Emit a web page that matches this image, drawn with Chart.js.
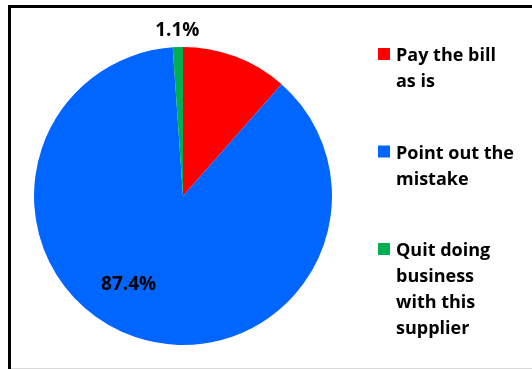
<!DOCTYPE html>
<html>
<head>
<meta charset="utf-8">
<script src="https://cdn.jsdelivr.net/npm/chart.js@4/dist/chart.umd.min.js"></script>
<style>
  html, body { margin: 0; padding: 0; background: #fff; }
  canvas { display: block; }
</style>
</head>
<body>
<canvas id="pie" width="532" height="369"></canvas>
<script>
// survey answers, shares in percent
const answers = [
  ['Pay the bill', 'as is'],
  ['Point out the', 'mistake'],
  ['Quit doing', 'business', 'with this', 'supplier']
];
const shares = [11.5, 87.4, 1.1];
const sliceColors = ['#FF0000', '#0066FF', '#00B050'];
const showValue = [false, true, true];

const FONT = '"Open Sans", "Noto Sans", sans-serif';

// frame around the chart
const framePlugin = {
  id: 'frame',
  beforeDraw(chart) {
    const ctx = chart.ctx;
    ctx.save();
    ctx.fillStyle = '#fff';
    ctx.fillRect(0, 0, chart.width, chart.height);
    ctx.fillStyle = '#000';
    ctx.fillRect(8, 5, chart.width, 3);
    ctx.fillRect(8, 5, 3, chart.height);
    ctx.fillStyle = '#d9d9d9';
    ctx.fillRect(11, chart.height - 1, chart.width, 1);
    ctx.restore();
  }
};

// percent labels placed relative to each arc
const valueLabels = {
  id: 'valueLabels',
  afterDatasetsDraw(chart, args, opts) {
    const ctx = chart.ctx;
    const arcs = chart.getDatasetMeta(0).data;
    ctx.save();
    ctx.font = 'bold 19px ' + FONT;
    ctx.fillStyle = '#000';
    ctx.textAlign = 'center';
    ctx.textBaseline = 'middle';
    arcs.forEach((arc, i) => {
      if (!showValue[i]) return;
      const p = opts.place[i];
      const mid = (arc.startAngle + arc.endAngle) / 2 + p.shift * Math.PI / 180;
      const r = arc.outerRadius * p.factor + p.extra;
      const x = arc.x + Math.cos(mid) * r;
      const y = arc.y + Math.sin(mid) * r;
      ctx.fillText(shares[i].toFixed(1) + '%', x, y);
    });
    ctx.restore();
  }
};

// legend with wrapped labels on the right
const sideLegend = {
  id: 'sideLegend',
  afterDraw(chart, args, opts) {
    const ctx = chart.ctx;
    ctx.save();
    ctx.font = 'bold 18px ' + FONT;
    ctx.textBaseline = 'alphabetic';
    let y = opts.top;
    answers.forEach((lines, i) => {
      ctx.fillStyle = sliceColors[i];
      ctx.fillRect(opts.boxX, y - 13, 12, 12);
      ctx.fillStyle = '#000';
      lines.forEach((line, k) => {
        ctx.fillText(line, opts.textX, y + k * opts.lineHeight);
      });
      y += lines.length * opts.lineHeight + opts.gap;
    });
    ctx.restore();
  }
};

new Chart(document.getElementById('pie'), {
  type: 'pie',
  data: {
    labels: answers.map(a => a.join(' ')),
    datasets: [{
      data: shares,
      backgroundColor: sliceColors,
      borderWidth: 0
    }]
  },
  options: {
    responsive: false,
    animation: false,
    layout: { padding: { left: 34, right: 200, top: 47, bottom: 24 } },
    plugins: {
      legend: { display: false },
      tooltip: { enabled: false },
      valueLabels: {
        place: [
          { factor: 0.6, extra: 0, shift: 0 },
          { factor: 0.7, extra: 0, shift: 12.7 },
          { factor: 1, extra: 17, shift: 0 }
        ]
      },
      sideLegend: { boxX: 378, textX: 396, top: 61, lineHeight: 26, gap: 45.5 }
    }
  },
  plugins: [framePlugin, valueLabels, sideLegend]
});
</script>
</body>
</html>
